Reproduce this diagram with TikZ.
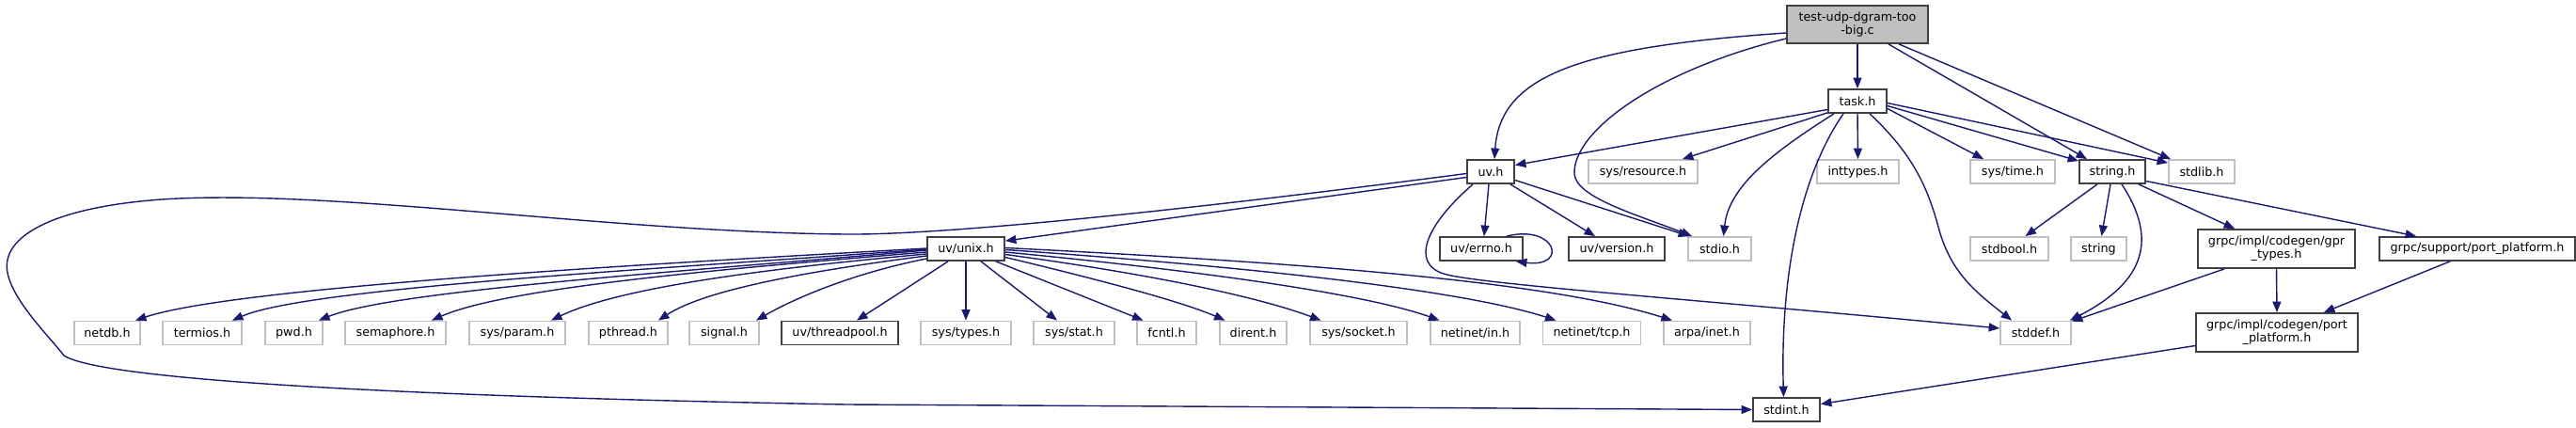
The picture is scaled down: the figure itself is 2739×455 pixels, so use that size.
\documentclass[tikz,border=0pt]{standalone}
\usepackage{fontspec}
\setmainfont{DejaVu Sans}
\usetikzlibrary{arrows.meta,calc}
\definecolor{edgecol}{HTML}{191970}
\definecolor{darkb}{HTML}{404040}
\definecolor{lightb}{HTML}{BFBFBF}
\tikzset{
  box/.style={draw=darkb, line width=1.8pt, fill=white, inner sep=0pt, minimum height=25pt,
    font=\fontsize{12.75}{14}\selectfont, align=center},
  gbox/.style={box, draw=lightb},
  mainbox/.style={box, fill=lightb, minimum height=40pt},
  dep/.style={draw=edgecol, line width=1.4pt, -{Triangle[length=11.5pt,width=9pt]}}
}
\begin{document}
\begin{tikzpicture}[x=1pt,y=-1pt]
\fill[white] (0,0) rectangle (2739,455);
\useasboundingbox (0,0) rectangle (2739,455);
% row 1
\node[mainbox, minimum width=150pt] (main) at (1975,26) {test-udp-dgram-too\\-big.c};
% row 2
\node[box, minimum width=62pt] (task) at (1975,107.5) {task.h};
% row 3
\node[box, minimum width=50pt] (uv) at (1585,182.5) {uv.h};
\node[gbox, minimum width=116pt] (sysres) at (1747,182.5) {sys/resource.h};
\node[gbox, minimum width=87pt] (inttypes) at (1975.5,182.5) {inttypes.h};
\node[gbox, minimum width=90pt] (systime) at (2140,182.5) {sys/time.h};
\node[box, minimum width=70pt] (stringh) at (2246,182.5) {string.h};
\node[gbox, minimum width=70pt] (stdlib) at (2341,182.5) {stdlib.h};
% row 4
\node[box, minimum width=82pt] (unix) at (1027,264.5) {uv/unix.h};
\node[box, minimum width=88pt] (errno) at (1575,264.5) {uv/errno.h};
\node[box, minimum width=102pt] (version) at (1719,264.5) {uv/version.h};
\node[gbox, minimum width=67pt] (stdio) at (1828.5,264.5) {stdio.h};
\node[gbox, minimum width=83pt] (stdbool) at (2136.5,264.5) {stdbool.h};
\node[gbox, minimum width=59pt] (stringn) at (2231.5,264.5) {string};
\node[box, minimum width=167pt, minimum height=41pt] (gpr) at (2420.5,264.5) {grpc/impl/codegen/gpr\\\_types.h};
\node[box, minimum width=208pt] (support) at (2634,264.5) {grpc/support/port\_platform.h};
% row 5
\node[gbox, minimum width=70pt] (netdb) at (114,354) {netdb.h};
\node[gbox, minimum width=84pt] (termios) at (215,354) {termios.h};
\node[gbox, minimum width=61pt] (pwd) at (312.5,354) {pwd.h};
\node[gbox, minimum width=107pt] (semaphore) at (420.5,354) {semaphore.h};
\node[gbox, minimum width=102pt] (sysparam) at (550,354) {sys/param.h};
\node[gbox, minimum width=84pt] (pthread) at (668,354) {pthread.h};
\node[gbox, minimum width=74pt] (signal) at (770,354) {signal.h};
\node[box, minimum width=124pt] (threadpool) at (893,354) {uv/threadpool.h};
\node[gbox, minimum width=96pt] (systypes) at (1027,354) {sys/types.h};
\node[gbox, minimum width=86pt] (sysstat) at (1142,354) {sys/stat.h};
\node[gbox, minimum width=63pt] (fcntl) at (1240.5,354) {fcntl.h};
\node[gbox, minimum width=71pt] (dirent) at (1332.5,354) {dirent.h};
\node[gbox, minimum width=103pt] (syssocket) at (1444.5,354) {sys/socket.h};
\node[gbox, minimum width=95pt] (netin) at (1568.5,354) {netinet/in.h};
\node[gbox, minimum width=104pt] (nettcp) at (1692.5,354) {netinet/tcp.h};
\node[gbox, minimum width=92pt] (arpa) at (1815,354) {arpa/inet.h};
\node[gbox, minimum width=75pt] (stddef) at (2164.5,354) {stddef.h};
\node[box, minimum width=172pt, minimum height=41pt] (impl) at (2421,353.5) {grpc/impl/codegen/port\\\_platform.h};
% row 6
\node[box, minimum width=71pt] (stdint) at (1899.5,435.5) {stdint.h};

% edges from main
\draw[dep] ($(main.west)+(0,9)$) .. controls (1680,50) and (1595,80) .. ($(uv.north)+(4,0)$);
\draw[dep] ($(main.west)+(0,15)$) .. controls (1760,75) and (1672,140) .. (1674,185)
  .. controls (1676,210) and (1740,228) .. ($(stdio.north west)+(5,0)$);
\draw[dep] (main.south) -- (task.north);
\draw[dep] ($(main.south)+(33,0)$) -- ($(stringh.north)+(-27,0)$);
\draw[dep] ($(main.south)+(44,0)$) -- ($(stdlib.north)+(-33,0)$);
% edges from task
\draw[dep] ($(task.west)+(0,9)$) -- ($(uv.east)+(0,-7)$);
\draw[dep] ($(task.south west)+(0,-1)$) -- ($(sysres.north east)+(-17,0)$);
\draw[dep] ($(task.south)+(-25,0)$) .. controls (1880,165) and (1838,200) .. ($(stdio.north)+(4,0)$);
\draw[dep] ($(task.south)+(-15,0)$) .. controls (1912,190) and (1893,300) .. ($(stdint.north)+(-3,0)$);
\draw[dep] (task.south) -- (inttypes.north);
\draw[dep] ($(task.south)+(13,0)$) .. controls (2035,165) and (2050,200) .. (2062,245)
  .. controls (2075,290) and (2100,310) .. ($(stddef.north west)+(13,0)$);
\draw[dep] ($(task.east)+(0,8)$) -- ($(systime.north west)+(15,0)$);
\draw[dep] ($(task.east)+(0,5)$) -- ($(stringh.north west)+(0,2)$);
\draw[dep] ($(task.east)+(0,2)$) -- ($(stdlib.north west)+(0,4)$);
% edges from uv
\draw[dep] ($(uv.west)+(0,6)$) -- ($(unix.north east)+(0,5)$);
\draw[dep] ($(uv.west)+(0,2)$) .. controls (1250,225) and (1000,250) .. (900,249)
  .. controls (650,247) and (350,200) .. (172,212)
  .. controls (60,220) and (0,250) .. (8,290)
  .. controls (14,320) and (50,355) .. (68,378)
  .. controls (110,405) and (450,422) .. (900,430) -- (stdint.west);
\draw[dep] ($(uv.south)+(-2,0)$) -- ($(errno.north)+(3,0)$);
\draw[dep] ($(uv.south east)+(-5,0)$) -- ($(version.north)+(-23,0)$);
\draw[dep] ($(uv.east)+(0,9)$) -- ($(stdio.north west)+(2,0)$);
\draw[dep] ($(uv.south west)+(7,0)$) .. controls (1515,240) and (1500,280) .. (1535,291)
  .. controls (1570,302) and (1800,318) .. ($(stddef.west)+(0,-5)$);
% self loop
\draw[dep] ($(errno.north east)+(-18,0)$) .. controls (1655,238) and (1668,285) .. ($(errno.south east)+(-8,0)$);
% edges from uv/unix.h
\draw[dep] ($(unix.west)+(0,-0.5)$) .. controls (700,280) and (250,305) .. ($(netdb.north)+(30,0)$);
\draw[dep] ($(unix.west)+(0,0.5)$) .. controls (720,285) and (330,305) .. ($(termios.north)+(32,0)$);
\draw[dep] ($(unix.west)+(0,1.5)$) .. controls (740,288) and (420,308) .. ($(pwd.north)+(26.5,0)$);
\draw[dep] ($(unix.west)+(0,3.5)$) .. controls (780,285) and (540,305) .. ($(semaphore.north)+(38.5,0)$);
\draw[dep] ($(unix.west)+(0,5.5)$) .. controls (820,285) and (660,305) .. ($(sysparam.north)+(36,0)$);
\draw[dep] ($(unix.west)+(0,7.5)$) .. controls (860,288) and (750,308) .. ($(pthread.north)+(32,0)$);
\draw[dep] ($(unix.west)+(0,10.5)$) .. controls (900,292) and (840,320) .. ($(signal.north)+(34,0)$);
\draw[dep] ($(unix.south west)+(23,0)$) -- ($(threadpool.north)+(18,0)$);
\draw[dep] (unix.south) -- (systypes.north);
\draw[dep] ($(unix.south)+(16,0)$) -- ($(sysstat.north)+(-18,0)$);
\draw[dep] ($(unix.south east)+(-10,0)$) -- ($(fcntl.north)+(-25,0)$);
\draw[dep] ($(unix.east)+(0,9)$) .. controls (1180,300) and (1260,322) .. ($(dirent.north)+(-30,0)$);
\draw[dep] ($(unix.east)+(0,6)$) .. controls (1250,295) and (1350,320) .. ($(syssocket.north)+(-40,0)$);
\draw[dep] ($(unix.east)+(0,3.5)$) .. controls (1300,290) and (1460,315) .. ($(netin.north)+(-38,0)$);
\draw[dep] ($(unix.east)+(0,1)$) .. controls (1350,285) and (1560,310) .. ($(nettcp.north)+(-38,0)$);
\draw[dep] ($(unix.east)+(0,-1)$) .. controls (1400,280) and (1650,300) .. ($(arpa.north)+(-37,0)$);
% edges from string.h
\draw[dep] ($(stringh.south)+(-16,0)$) -- ($(stdbool.north)+(17,0)$);
\draw[dep] ($(stringh.south)+(-2,0)$) -- ($(stringn.north)+(3,0)$);
\draw[dep] ($(stringh.south)+(10,0)$) .. controls (2295,255) and (2280,300) .. ($(stddef.north east)+(-2,0)$);
\draw[dep] ($(stringh.south east)+(-8,0)$) -- ($(gpr.north west)+(40,0)$);
\draw[dep] ($(stringh.east)+(0,10)$) -- ($(support.north west)+(40,0)$);
% grpc edges
\draw[dep] ($(gpr.south west)+(29,0)$) -- ($(stddef.north east)+(0,1)$);
\draw[dep] (gpr.south) -- (impl.north);
\draw[dep] ($(support.south)+(-29,0)$) -- ($(impl.north east)+(-37,0)$);
\draw[dep] ($(impl.west)+(0,14)$) -- ($(stdint.east)+(0,-6)$);
\end{tikzpicture}
\end{document}
